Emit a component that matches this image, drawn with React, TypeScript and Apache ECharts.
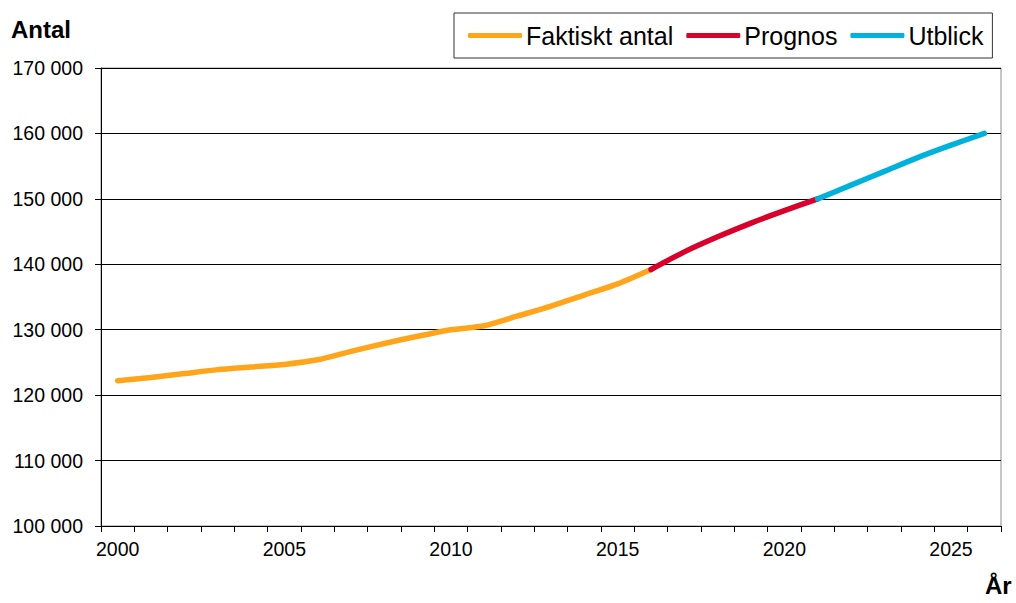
import React, { useEffect, useRef } from "react";
import * as echarts from "echarts";

const years: string[] = [
  "2000","2001","2002","2003","2004","2005","2006","2007","2008","2009",
  "2010","2011","2012","2013","2014","2015","2016","2017","2018","2019",
  "2020","2021","2022","2023","2024","2025","2026",
];

// Faktiskt antal 2000–2016
const actual: (number | null)[] = [
  122200, 122700, 123300, 123900, 124300, 124700, 125400, 126700, 127900, 129000,
  130000, 130600, 132100, 133600, 135300, 137000, 139200,
  null, null, null, null, null, null, null, null, null, null,
];
// Prognos 2016–2021
const forecast: (number | null)[] = [
  null, null, null, null, null, null, null, null, null, null,
  null, null, null, null, null, null, 139200, 141900, 144200, 146300, 148200, 150000,
  null, null, null, null, null,
];
// Utblick 2021–2026
const outlook: (number | null)[] = [
  null, null, null, null, null, null, null, null, null, null,
  null, null, null, null, null, null, null, null, null, null, null, 150000,
  152100, 154200, 156300, 158200, 160000,
];

const seriesNames = ["Faktiskt antal", "Prognos", "Utblick"];
const seriesColors = ["#FFA51C", "#D9002B", "#00B2DB"];
const yTicks = { min: 100000, max: 170000, interval: 10000 };

const fmt = (v: number) => {
  const s = String(Math.round(v));
  return s.replace(/\B(?=(\d{3})+(?!\d))/g, " ");
};

export default function App() {
  const ref = useRef<HTMLDivElement>(null);
  useEffect(() => {
    document.body.style.margin = "0";
    if (!ref.current) return;
    const chart = echarts.init(ref.current, undefined, { renderer: "svg" });
    const font = "'Liberation Sans', Arial, sans-serif";
    const datas = [actual, forecast, outlook];
    chart.setOption({
      animation: false,
      backgroundColor: "#ffffff",
      textStyle: { fontFamily: font },
      grid: {
        left: 101,
        right: 15,
        top: 68,
        bottom: 77,
        show: true,
        borderColor: "#8c8c8c",
        borderWidth: 1,
      },
      legend: {
        left: 454,
        top: 13,
        padding: [10, 9, 10, 14],
        itemGap: 13,
        borderColor: "#333333",
        borderWidth: 1,
        itemWidth: 54,
        itemHeight: 5,
        icon: "roundRect",
        textStyle: { fontSize: 25, color: "#000", fontFamily: font, padding: [0, 0, 0, -1] },
        data: seriesNames,
      },
      xAxis: {
        type: "category",
        data: years,
        boundaryGap: true,
        axisLine: { lineStyle: { color: "#000", width: 1 } },
        axisTick: { show: true, interval: 0, length: 6, lineStyle: { color: "#000" } },
        axisLabel: {
          interval: 4,
          color: "#000",
          fontSize: 19.5,
          margin: 13,
          fontFamily: font,
        },
        splitLine: { show: false },
      },
      yAxis: {
        type: "value",
        min: yTicks.min,
        max: yTicks.max,
        interval: yTicks.interval,
        axisLine: { show: true, lineStyle: { color: "#000", width: 1 } },
        axisTick: { show: true, length: 6, lineStyle: { color: "#000" } },
        axisLabel: {
          color: "#000",
          fontSize: 19.5,
          margin: 18,
          fontFamily: font,
          formatter: (v: number) => fmt(v),
        },
        splitLine: { show: true, lineStyle: { color: "#000", width: 1 } },
      },
      graphic: [
        {
          type: "text",
          left: 11,
          top: 17,
          style: { text: "Antal", fontSize: 24, fontWeight: "bold", fill: "#000", fontFamily: font },
        },
        {
          type: "text",
          left: 985,
          top: 573,
          style: { text: "År", fontSize: 24, fontWeight: "bold", fill: "#000", fontFamily: font },
        },
      ],
      series: seriesNames.map((name, i) => ({
        name,
        type: "line",
        data: datas[i],
        showSymbol: false,
        symbol: "none",
        smooth: 0.25,
        connectNulls: false,
        color: seriesColors[i],
        lineStyle: { color: seriesColors[i], width: 5.5, cap: "round" },
        z: 3 + i,
      })),
    });
    return () => chart.dispose();
  }, []);
  return <div ref={ref} style={{ width: 1016, height: 603 }} />;
}
